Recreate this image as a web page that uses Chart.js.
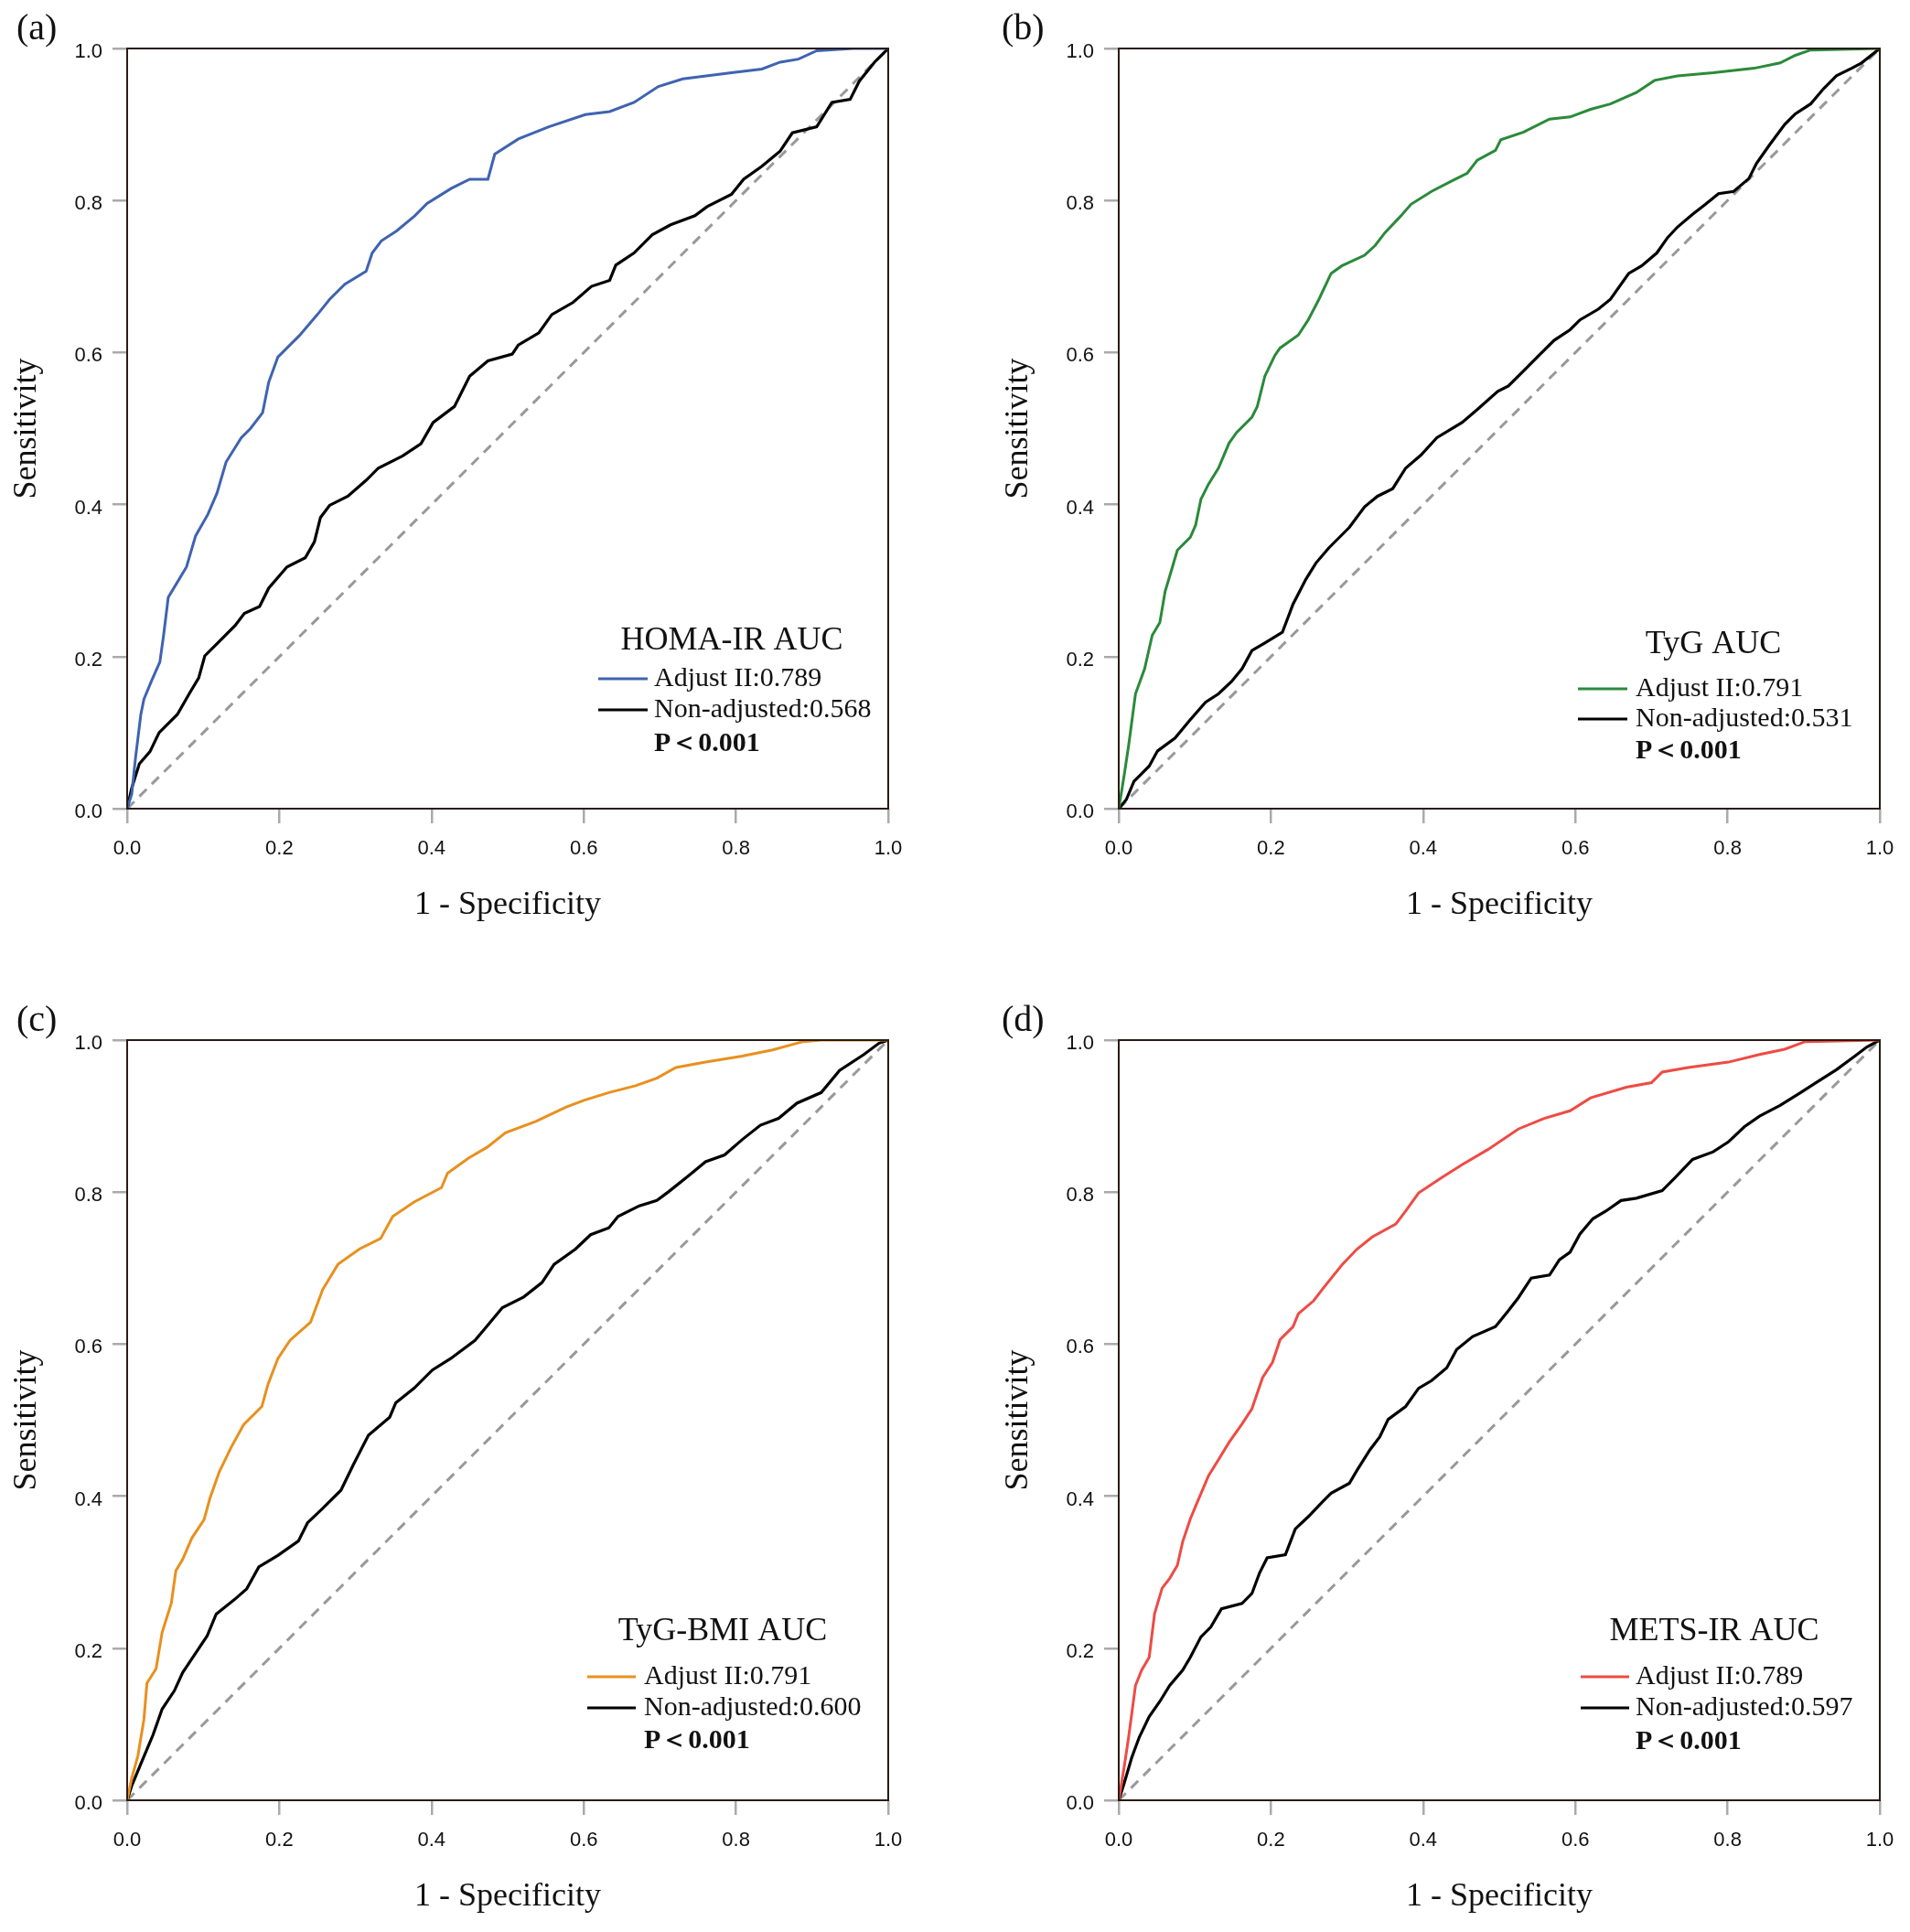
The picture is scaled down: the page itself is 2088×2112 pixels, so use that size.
<!DOCTYPE html>
<html><head><meta charset="utf-8">
<script src="https://cdn.jsdelivr.net/npm/chart.js@4.4.1/dist/chart.umd.min.js"></script>
<style>
html,body{margin:0;padding:0;background:#fff;width:2088px;height:2112px;overflow:hidden}
canvas{position:absolute}
</style></head><body>
<canvas id="pa" width="1004" height="1028" style="left:0;top:0"></canvas>
<canvas id="pb" width="1004" height="1028" style="left:1084px;top:0"></canvas>
<canvas id="pc" width="1004" height="1028" style="left:0;top:1084px"></canvas>
<canvas id="pd" width="1004" height="1028" style="left:1084px;top:1084px"></canvas>
<script>
// ---- tick values / labels ----
const tickValues = [0, 0.2, 0.4, 0.6, 0.8, 1.0];
const tickLabels = ['0.0', '0.2', '0.4', '0.6', '0.8', '1.0'];
const diagX = [0, 1];
const diagY = [0, 1];

// ---- (a) HOMA-IR ----
const homaAdjX = [0,.006,.011,.018,.022,.032,.043,.048,.054,.066,.078,.090,.106,.118,.130,.150,.162,.178,.186,.198,.210,.226,.250,.266,.286,.314,.322,.334,.354,.378,.394,.426,.450,.474,.483,.514,.554,.602,.634,.666,.698,.730,.794,.834,.858,.882,.906,.954,1];
const homaAdjY = [0,.019,.067,.124,.144,.168,.193,.229,.278,.298,.318,.359,.387,.415,.456,.488,.500,.521,.561,.594,.606,.622,.650,.670,.690,.707,.731,.747,.760,.780,.796,.816,.828,.828,.861,.881,.897,.913,.917,.929,.950,.960,.968,.973,.982,.986,.997,1,1];
const homaNonX = [0,.006,.016,.030,.042,.066,.082,.094,.102,.122,.142,.154,.174,.186,.210,.234,.246,.254,.266,.290,.314,.330,.362,.386,.402,.430,.450,.474,.506,.514,.541,.558,.586,.610,.634,.642,.666,.690,.714,.746,.762,.794,.810,.834,.858,.874,.906,.926,.950,.962,.982,1];
const homaNonY = [0,.027,.059,.075,.100,.124,.152,.172,.201,.221,.241,.257,.266,.290,.318,.330,.351,.383,.399,.411,.432,.448,.464,.480,.508,.529,.569,.589,.598,.610,.626,.650,.666,.687,.695,.715,.731,.755,.768,.780,.792,.808,.828,.845,.865,.889,.897,.929,.933,.957,.982,1];

// ---- (b) TyG ----
const tygAdjX = [0,.007,.013,.022,.034,.044,.054,.061,.067,.077,.094,.101,.108,.118,.131,.145,.155,.175,.182,.192,.205,.212,.236,.249,.263,.279,.293,.323,.337,.350,.370,.384,.411,.438,.458,.471,.495,.502,.532,.566,.593,.620,.646,.680,.704,.734,.781,.835,.869,.889,.909,1];
const tygAdjY = [0,.043,.083,.151,.184,.228,.245,.286,.306,.340,.357,.373,.407,.427,.448,.481,.495,.515,.529,.569,.596,.606,.623,.643,.670,.704,.714,.728,.741,.758,.779,.795,.812,.826,.836,.853,.866,.880,.890,.907,.910,.920,.927,.942,.958,.964,.968,.974,.981,.991,.998,1];
const tygNonX = [0,.010,.020,.030,.040,.051,.074,.094,.114,.131,.148,.162,.175,.192,.215,.229,.246,.259,.276,.303,.323,.340,.360,.377,.397,.418,.451,.471,.498,.512,.532,.552,.572,.593,.606,.630,.646,.670,.687,.707,.721,.734,.754,.771,.788,.808,.828,.838,.855,.875,.889,.909,.926,.943,.963,.976,1];
const tygNonY = [0,.012,.036,.046,.056,.076,.093,.117,.140,.151,.167,.184,.208,.218,.232,.269,.302,.323,.343,.370,.397,.411,.421,.448,.465,.488,.508,.525,.549,.556,.576,.596,.616,.630,.643,.657,.670,.704,.714,.731,.751,.765,.782,.795,.809,.812,.829,.849,.873,.900,.914,.927,.947,.964,.974,.981,1];

// ---- (c) TyG-BMI ----
const bmiAdjX = [0,.006,.014,.022,.026,.038,.046,.058,.064,.073,.085,.101,.109,.121,.137,.153,.177,.185,.198,.214,.241,.257,.277,.305,.333,.349,.377,.413,.421,.449,.473,.497,.537,.577,.601,.633,.668,.696,.721,.760,.808,.848,.888,.912,1];
const bmiAdjY = [0,.029,.058,.106,.154,.173,.221,.259,.302,.317,.345,.369,.398,.432,.465,.494,.518,.547,.581,.605,.629,.672,.705,.725,.739,.768,.787,.806,.825,.845,.859,.878,.893,.912,.921,.931,.940,.950,.964,.971,.979,.987,.998,1,1];
const bmiNonX = [0,.006,.018,.034,.046,.062,.073,.089,.105,.117,.141,.157,.173,.198,.225,.237,.257,.281,.297,.317,.345,.353,.377,.401,.425,.457,.473,.493,.521,.545,.561,.589,.609,.633,.645,.673,.696,.712,.737,.760,.785,.808,.832,.856,.880,.912,.936,.968,.988,1];
const bmiNonY = [0,.019,.048,.086,.120,.144,.168,.192,.216,.245,.264,.278,.307,.322,.341,.365,.384,.408,.441,.480,.504,.523,.542,.566,.581,.605,.624,.648,.662,.681,.705,.725,.744,.753,.768,.782,.789,.801,.821,.840,.849,.869,.888,.897,.917,.931,.960,.981,.996,1];

// ---- (d) METS-IR ----
const metsAdjX = [0,.007,.013,.022,.030,.040,.047,.057,.067,.077,.084,.094,.104,.118,.131,.145,.162,.175,.189,.202,.212,.229,.236,.256,.269,.293,.313,.333,.364,.377,.394,.424,.451,.485,.525,.559,.593,.620,.667,.700,.714,.748,.801,.842,.875,.902,1];
const metsAdjY = [0,.043,.083,.151,.171,.188,.245,.279,.292,.309,.340,.370,.394,.427,.448,.471,.495,.515,.556,.576,.606,.623,.640,.657,.674,.704,.725,.741,.758,.775,.799,.819,.836,.856,.883,.897,.907,.924,.938,.944,.958,.964,.971,.981,.988,.998,1];
const metsNonX = [0,.007,.017,.027,.040,.054,.067,.084,.094,.108,.121,.135,.162,.175,.185,.195,.219,.232,.249,.269,.279,.303,.313,.330,.343,.354,.377,.394,.411,.431,.444,.465,.495,.512,.525,.542,.566,.579,.593,.606,.623,.640,.660,.680,.714,.731,.754,.781,.801,.822,.842,.869,.896,.916,.943,.966,.983,1];
const metsNonY = [0,.022,.056,.083,.110,.130,.151,.171,.188,.215,.228,.252,.259,.272,.299,.319,.323,.357,.373,.394,.404,.417,.434,.461,.478,.501,.518,.542,.552,.569,.593,.610,.623,.644,.661,.687,.691,.711,.721,.745,.765,.775,.789,.792,.802,.819,.843,.853,.866,.886,.900,.914,.931,.944,.961,.978,.991,1];

// ---- panel texts ----
const panelLabels = ['(a)', '(b)', '(c)', '(d)'];
const panelTitles = ['HOMA-IR AUC', 'TyG AUC', 'TyG-BMI AUC', 'METS-IR AUC'];
const adjLabels = ['Adjust II:0.789', 'Adjust II:0.791', 'Adjust II:0.791', 'Adjust II:0.789'];
const nonLabels = ['Non-adjusted:0.568', 'Non-adjusted:0.531', 'Non-adjusted:0.600', 'Non-adjusted:0.597'];
const pLabel = 'P\uFF1C0.001';

function pts(xs, ys) { return xs.map((x, i) => ({x: x, y: ys[i]})); }

const decor = {
  id: 'decor',
  afterDraw(chart, args, o) {
    const ctx = chart.ctx, ca = chart.chartArea;
    ctx.save();
    ctx.strokeStyle = '#2b1a14'; ctx.lineWidth = 2;
    ctx.strokeRect(ca.left, ca.top, ca.right - ca.left, ca.bottom - ca.top);
    ctx.fillStyle = '#111';
    ctx.textBaseline = 'middle';
    ctx.textAlign = 'left';
    ctx.font = '40px "Liberation Serif", "Times New Roman", serif';
    ctx.fillText(o.label, o.labelX, 32);
    ctx.textAlign = 'center';
    ctx.font = '36px "Liberation Serif", "Times New Roman", serif';
    ctx.fillText('1 - Specificity', (ca.left + ca.right) / 2, ca.bottom + 106);
    ctx.save();
    ctx.translate(30, (ca.top + ca.bottom) / 2);
    ctx.rotate(-Math.PI / 2);
    ctx.fillText('Sensitivity', 0, 0);
    ctx.restore();
    // legend
    const L = ca.left, T = ca.top;
    ctx.font = '36px "Liberation Serif", "Times New Roman", serif';
    ctx.fillText(o.title, L + o.tx, T + o.ty);
    ctx.lineWidth = 3;
    ctx.strokeStyle = o.color;
    ctx.beginPath(); ctx.moveTo(L + o.lx0, T + o.r1); ctx.lineTo(L + o.lx1, T + o.r1); ctx.stroke();
    ctx.strokeStyle = '#000';
    ctx.beginPath(); ctx.moveTo(L + o.lx0, T + o.r2); ctx.lineTo(L + o.lx1, T + o.r2); ctx.stroke();
    ctx.textAlign = 'left';
    ctx.font = '30px "Liberation Serif", "Times New Roman", serif';
    ctx.fillText(o.adj, L + o.txt, T + o.r1);
    ctx.fillText(o.non, L + o.txt, T + o.r2);
    ctx.font = 'bold 30px "Liberation Serif", "Times New Roman", serif';
    ctx.fillText(pLabel, L + o.txt, T + o.r3);
    ctx.restore();
  }
};

function axis(isY) {
  return {
    type: 'linear', min: 0, max: 1,
    afterBuildTicks: (s) => { s.ticks = tickValues.map(v => ({value: v})); },
    afterFit: (s) => { if (isY) s.width = 139; else s.height = 144; },
    ticks: {
      callback: (v, i) => tickLabels[i],
      color: '#111',
      font: {family: '"Liberation Sans", Arial, sans-serif', size: 22},
      padding: isY ? 11 : 15,
      labelOffset: isY ? 4 : 0,
      maxRotation: 0, autoSkip: false
    },
    grid: {drawOnChartArea: false, drawTicks: true, tickLength: 16, color: '#aaaaaa', lineWidth: 2.5},
    border: {display: false},
    title: {display: false}
  };
}

function makeChart(id, idx, adjX, adjY, nonX, nonY, color, lay) {
  new Chart(document.getElementById(id), {
    type: 'line',
    data: {
      datasets: [
        {data: pts(adjX, adjY), borderColor: color, borderWidth: 3, pointRadius: 0, tension: 0, order: 0},
        {data: pts(nonX, nonY), borderColor: '#000', borderWidth: 3.2, pointRadius: 0, tension: 0, order: 1},
        {data: pts(diagX, diagY), borderColor: '#999999', borderWidth: 3, borderDash: [11, 8], pointRadius: 0, order: 2}
      ]
    },
    options: {
      responsive: false, animation: false, devicePixelRatio: 1,
      layout: {padding: {left: 0, top: 53, right: 33, bottom: 0}},
      scales: {x: axis(false), y: axis(true)},
      plugins: {
        legend: {display: false}, tooltip: {enabled: false},
        decor: Object.assign({label: panelLabels[idx], title: panelTitles[idx], adj: adjLabels[idx], non: nonLabels[idx], color: color}, lay)
      }
    },
    plugins: [decor]
  });
}

const layA = {labelX: 18, tx: 661, ty: 648, r1: 689, r2: 723, r3: 760, lx0: 515, lx1: 569, txt: 576};
const layB = {labelX: 11, tx: 650, ty: 652, r1: 700, r2: 733, r3: 768, lx0: 502, lx1: 556, txt: 565};
const layC = {labelX: 18, tx: 651, ty: 647, r1: 696, r2: 730, r3: 766, lx0: 503, lx1: 556, txt: 565};
const layD = {labelX: 11, tx: 651, ty: 647, r1: 696, r2: 730, r3: 767, lx0: 505, lx1: 558, txt: 565};

makeChart('pa', 0, homaAdjX, homaAdjY, homaNonX, homaNonY, '#3f63b0', layA);
makeChart('pb', 1, tygAdjX, tygAdjY, tygNonX, tygNonY, '#2a8a3a', layB);
makeChart('pc', 2, bmiAdjX, bmiAdjY, bmiNonX, bmiNonY, '#e8901e', layC);
makeChart('pd', 3, metsAdjX, metsAdjY, metsNonX, metsNonY, '#ee4b45', layD);
</script>
</body></html>
